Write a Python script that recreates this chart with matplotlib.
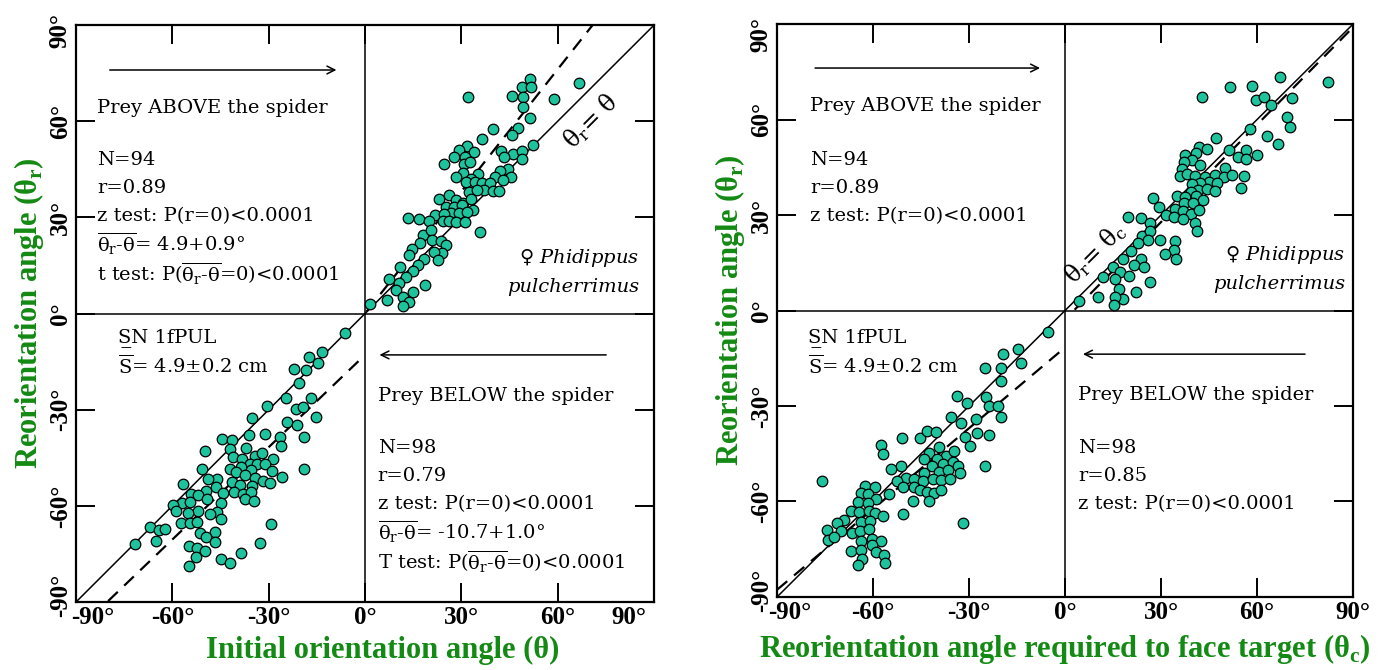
# Reorientation angle vs initial / required angle, Phidippus pulcherrimus

import matplotlib
matplotlib.use("Agg")
import matplotlib.pyplot as plt
from matplotlib.transforms import ScaledTranslation

# Data
# Left panel: initial orientation angle (theta) vs reorientation angle (theta_r)
theta_above = [51.5, 48.9, 51.7, 45.8, 49.3, 32.0, 66.7, 59.0, 49.3, 51.3, 39.8, 47.7, 45.7, 36.4,
               52.4, 31.8, 29.2, 33.9, 27.6, 31.0, 42.2, 46.2, 48.8, 43.3, 48.9, 24.7, 30.7, 32.6,
               44.6, 30.5, 35.3, 28.4, 33.1, 42.0, 40.6, 45.5, 42.9, 31.5, 34.1, 36.4, 38.9, 37.1,
               39.8, 41.8, 32.5, 34.8, 22.9, 26.3, 28.4, 30.5, 33.0, 25.2, 27.6, 30.1, 33.5, 26.8,
               29.4, 31.7, 13.3, 16.7, 21.9, 24.7, 19.8, 24.2, 26.3, 28.4, 31.0, 35.8, 18.0, 20.5,
               20.9, 23.6, 17.0, 25.2, 14.6, 24.0, 21.5, 13.8, 18.5, 22.7, 16.4, 11.0, 14.9, 12.8,
               7.6, 10.5, 18.6, 9.7, 14.9, 7.0, 11.8, 13.8, 11.8, 1.6]
thetar_above = [73.3, 70.8, 70.8, 67.9, 67.5, 67.7, 72.0, 67.0, 64.3, 61.0, 57.5, 57.9, 55.6, 54.6,
                52.5, 52.3, 51.0, 50.4, 48.7, 49.0, 50.8, 49.8, 50.8, 48.7, 48.1, 46.7, 46.7, 47.3,
                45.2, 44.0, 43.7, 42.7, 42.1, 44.6, 42.5, 42.5, 41.7, 41.2, 41.0, 40.6, 40.6, 38.5,
                38.3, 38.3, 37.9, 38.7, 35.6, 36.9, 35.4, 34.6, 35.6, 33.1, 33.1, 33.8, 32.3, 31.3,
                31.5, 31.7, 29.8, 29.6, 30.6, 31.1, 28.8, 29.0, 28.8, 28.6, 28.6, 25.6, 24.6, 26.1,
                23.0, 22.5, 21.9, 21.3, 20.0, 19.0, 19.2, 18.2, 16.9, 16.7, 15.0, 14.4, 13.4, 11.5,
                10.9, 9.6, 9.0, 7.3, 6.7, 4.2, 5.1, 3.6, 2.4, 3.0]
theta_below = [-6.1, -13.4, -17.6, -14.7, -22.0, -18.5, -20.6, -16.8, -24.7, -30.4, -21.6, -19.3,
               -15.4, -35.1, -24.2, -21.2, -36.1, -31.0, -26.6, -18.9, -44.4, -41.5, -26.2, -37.2,
               -41.9, -49.9, -41.1, -38.2, -34.4, -32.0, -28.7, -35.9, -33.5, -31.0, -38.6, -35.5,
               -42.2, -50.8, -40.1, -29.1, -19.0, -37.4, -34.4, -26.0, -46.2, -49.0, -41.4, -31.8,
               -29.7, -39.0, -35.1, -49.6, -46.5, -56.7, -44.2, -54.1, -51.9, -40.9, -38.0, -35.5,
               -37.3, -34.6, -49.3, -45.0, -57.1, -54.6, -59.9, -59.0, -52.0, -55.1, -46.0, -48.2,
               -45.0, -57.2, -54.4, -52.3, -67.0, -64.3, -62.3, -51.5, -46.8, -49.6, -29.2, -65.0,
               -46.8, -71.7, -54.9, -52.3, -49.8, -32.7, -38.5, -52.7, -44.7, -41.9, -54.9]
thetar_below = [-6.2, -12.0, -13.5, -15.5, -17.4, -17.6, -21.8, -26.4, -26.2, -28.7, -29.7, -29.3,
                -32.4, -32.6, -33.9, -34.7, -38.0, -37.6, -38.6, -38.4, -39.1, -39.5, -41.3, -41.8,
                -42.4, -43.0, -44.7, -45.3, -44.3, -43.4, -45.5, -46.8, -47.0, -47.0, -48.0, -48.8,
                -48.6, -48.6, -49.4, -49.0, -48.4, -50.5, -51.3, -50.9, -51.5, -51.7, -52.6, -52.2,
                -53.0, -53.6, -53.8, -55.3, -54.0, -53.2, -56.1, -56.3, -56.5, -55.7, -56.3, -55.7,
                -58.0, -58.4, -58.0, -59.2, -59.2, -58.8, -59.6, -61.7, -61.7, -62.3, -61.9, -62.6,
                -64.2, -65.5, -65.3, -65.1, -66.5, -67.6, -67.1, -68.4, -68.2, -69.6, -65.7, -70.9,
                -71.3, -71.9, -72.5, -73.2, -74.2, -71.7, -74.6, -76.1, -76.7, -77.9, -78.8]

# Right panel: angle required to face target (theta_c) vs reorientation angle (theta_r)
thetac_above = [67.2, 82.1, 51.7, 58.4, 42.8, 59.7, 62.3, 71.0, 64.5, 69.3, 70.3, 57.8, 63.0, 47.2,
                66.4, 51.1, 41.9, 44.3, 56.5, 53.9, 56.5, 60.1, 37.4, 40.9, 39.7, 37.2, 42.3, 36.5,
                49.9, 35.9, 38.0, 40.7, 43.6, 47.0, 49.7, 52.2, 55.8, 44.9, 42.2, 47.4, 39.7, 41.6,
                44.5, 46.9, 55.1, 27.6, 34.9, 39.3, 37.6, 40.9, 43.0, 29.3, 34.3, 37.2, 40.1, 31.4,
                33.9, 37.0, 39.5, 42.0, 36.8, 40.5, 41.1, 19.7, 23.6, 26.4, 23.9, 26.6, 25.9, 29.7,
                34.3, 34.1, 31.1, 34.7, 22.7, 20.5, 18.0, 23.6, 21.6, 24.7, 14.9, 17.2, 11.8, 19.9,
                15.5, 16.8, 26.4, 22.2, 10.3, 18.2, 15.7, 15.3, 4.3]
thetar2_above = [73.5, 71.8, 70.3, 70.5, 67.2, 66.3, 67.2, 66.8, 64.5, 60.9, 57.6, 57.1, 55.0, 54.2,
                 52.3, 50.4, 51.5, 50.8, 50.4, 48.1, 47.7, 49.0, 49.0, 49.4, 47.3, 46.7, 45.8, 44.6,
                 44.8, 42.3, 42.9, 42.3, 42.1, 42.5, 42.1, 42.5, 42.3, 40.4, 40.2, 40.0, 39.8, 37.9,
                 38.1, 37.7, 38.5, 35.4, 36.0, 37.4, 35.8, 36.0, 34.7, 32.4, 32.0, 33.9, 33.7, 30.1,
                 29.5, 31.2, 30.3, 31.6, 28.7, 27.4, 24.9, 29.5, 29.1, 27.4, 23.4, 24.9, 22.2, 22.2,
                 21.7, 19.0, 17.8, 16.1, 21.3, 18.8, 16.1, 16.1, 14.2, 13.6, 13.6, 12.1, 10.6, 10.9,
                 9.8, 6.9, 9.0, 5.8, 4.4, 3.7, 4.4, 1.8, 3.1]
thetac_below = [-5.2, -14.6, -19.5, -13.9, -24.9, -20.1, -20.1, -33.9, -24.8, -30.7, -23.9, -20.9,
                -20.1, -35.7, -27.9, -32.5, -31.2, -27.4, -23.9, -29.7, -50.9, -45.3, -43.0, -40.4,
                -57.4, -56.8, -39.5, -42.4, -37.2, -34.7, -44.2, -40.1, -38.0, -35.1, -33.4, -24.9,
                -51.4, -54.3, -41.6, -44.1, -39.5, -36.6, -32.8, -49.6, -47.3, -44.5, -41.2, -38.7,
                -35.9, -75.8, -52.6, -50.5, -47.2, -45.3, -43.2, -40.9, -38.7, -62.4, -59.3, -63.9,
                -61.6, -54.9, -59.1, -64.7, -61.6, -47.6, -42.6, -66.8, -64.5, -61.4, -59.3, -57.0,
                -50.5, -63.9, -60.9, -69.1, -71.4, -74.3, -69.9, -66.6, -64.1, -61.4, -31.8, -74.0,
                -72.2, -60.3, -63.9, -57.4, -60.3, -66.8, -63.9, -59.1, -56.6, -63.4, -64.7, -56.4]
thetar2_below = [-6.75, -12.0, -13.7, -16.6, -18.1, -18.1, -22.0, -26.9, -27.3, -29.2, -30.0, -30.0,
                 -33.4, -33.4, -34.2, -35.4, -39.6, -38.4, -39.0, -42.6, -40.1, -40.1, -38.0, -38.2,
                 -42.3, -45.1, -43.0, -44.9, -45.7, -44.0, -46.5, -46.8, -48.2, -47.6, -48.8, -49.0,
                 -49.0, -49.7, -48.8, -51.2, -50.7, -50.1, -51.2, -52.6, -53.0, -53.7, -53.0, -53.2,
                 -52.8, -53.5, -53.7, -55.3, -55.5, -56.4, -57.0, -57.4, -56.4, -55.1, -55.5, -57.2,
                 -57.8, -57.6, -59.1, -60.2, -60.6, -60.0, -60.0, -63.1, -63.3, -62.9, -63.7, -64.6,
                 -63.9, -66.4, -66.0, -65.8, -66.9, -69.0, -69.2, -69.8, -69.4, -68.7, -66.9, -72.1,
                 -71.3, -71.7, -72.5, -72.5, -73.8, -75.4, -75.2, -75.9, -76.7, -78.0, -79.8, -79.2]

ticks = [-90, -60, -30, 0, 30, 60, 90]
tick_labels = ["-90°", "-60°", "-30°", "0°", "30°", "60°", "90°"]

# Dashed regression lines (endpoints of x, intercept, slope)
left_dash_above = ([0.5, 71.0], 0.0, 1.27)
left_dash_below = ([-80.0, -2.0], -12.9, 0.96)
right_dash_above = ([3.0, 90.0], -2.8, 1.02)
right_dash_below = ([-90.0, 0.3], -11.6, 0.846)

# Style
plt.rcParams["mathtext.fontset"] = "dejavuserif"
GREEN = "#138a13"
DOT = "#1cc39c"
BODY = "DejaVu Serif"
BOLD = "Liberation Serif"
DIFF = r"$\overline{\mathrm{θ_r}\text{-}\mathrm{θ}}$"

fig = plt.figure(figsize=(13.9, 6.7), dpi=100)
ax1 = fig.add_axes([0.0547, 0.1015, 0.4158, 0.861])
ax2 = fig.add_axes([0.559, 0.109, 0.4144, 0.855])


def nudge(label, dx, dy):
    # shift a tick label by (dx, dy) pixels
    label.set_transform(label.get_transform() + ScaledTranslation(dx / 100, dy / 100, fig.dpi_scale_trans))


def setup_axes(ax, xlabel, xshift, yshift):
    ax.set_xlim(-90, 90)
    ax.set_ylim(-90, 90)
    ax.axhline(0, color="black", lw=1.1, zorder=1)
    ax.axvline(0, color="black", lw=1.1, zorder=1)
    ax.plot([-90, 90], [-90, 90], color="black", lw=1.1, zorder=1)
    ax.set_xticks(ticks)
    ax.set_yticks(ticks)
    ax.set_xticklabels(tick_labels, family=BOLD, fontweight="bold", fontsize=18)
    ax.set_yticklabels(tick_labels, family=BOLD, fontweight="bold", fontsize=18,
                       rotation=90, va="center")
    ax.tick_params(direction="in", length=14, width=1.4, top=True, right=True, pad=3)
    xl = ax.get_xticklabels()
    yl = ax.get_yticklabels()
    nudge(xl[0], xshift[0], 0)
    nudge(xl[-1], xshift[1], 0)
    nudge(yl[0], 0, yshift[0])
    nudge(yl[-1], 0, yshift[1])
    for s in ax.spines.values():
        s.set_linewidth(1.6)
    ax.set_xlabel(xlabel, color=GREEN, family=BOLD, fontweight="bold", fontsize=22, labelpad=6)
    ax.set_ylabel("Reorientation angle (θ$_\\mathregular{r}$)", color=GREEN, family=BOLD,
                  fontweight="bold", fontsize=22, labelpad=2)


def dashed(ax, spec):
    xs, b, m = spec
    ax.plot(xs, [b + m * x for x in xs], color="black", lw=1.6, ls=(0, (6, 4)), zorder=1)


def txt(ax, x, y, s, **kw):
    kw.setdefault("fontsize", 14)
    kw.setdefault("family", BODY)
    ax.text(x, y, s, va="center", **kw)


def arrow(ax, x0, x1, y):
    ax.annotate("", xy=(x1, y), xytext=(x0, y),
                arrowprops=dict(arrowstyle="->", lw=1.1, color="black",
                                mutation_scale=14, shrinkA=0, shrinkB=0))


# Left panel
setup_axes(ax1, "Initial orientation angle (θ)", (17, -25), (7, -5))
ax1.xaxis.set_label_coords(0.53, -0.058)
dashed(ax1, left_dash_above)
dashed(ax1, left_dash_below)
ax1.scatter(theta_above, thetar_above, s=58, c=DOT, edgecolors="black", linewidths=0.9, zorder=3)
ax1.scatter(theta_below, thetar_below, s=58, c=DOT, edgecolors="black", linewidths=0.9, zorder=3)

arrow(ax1, -79.5, -8.9, 76.0)
txt(ax1, -83.5, 64.1, "Prey ABOVE the spider")
txt(ax1, -83.5, 47.9, "N=94")
txt(ax1, -83.5, 39.2, "r=0.89")
txt(ax1, -83.5, 30.4, "z test: P(r=0)<0.0001")
txt(ax1, -83.5, 21.7, DIFF + "= 4.9+0.9°")
txt(ax1, -83.5, 12.3, "t test: P(" + DIFF + "=0)<0.0001")
txt(ax1, 70.2, 60.0, r"$\mathrm{θ_r}$= θ", fontsize=17, rotation=45, ha="center")
txt(ax1, 85.4, 17.3, r"♀ $\mathit{Phidippus}$", ha="right", family=[BODY, "DejaVu Sans"])
txt(ax1, 85.4, 8.3, "pulcherrimus", ha="right", style="italic")
txt(ax1, -77.0, -7.6, "S\u0332N 1fPUL")
txt(ax1, -77.0, -16.4, r"$\overline{\mathrm{S}}$= 4.9±0.2 cm")
arrow(ax1, 75.1, 4.5, -12.9)
txt(ax1, 3.9, -25.7, "Prey BELOW the spider")
txt(ax1, 3.9, -42.0, "N=98")
txt(ax1, 3.9, -50.7, "r=0.79")
txt(ax1, 3.9, -59.4, "z test: P(r=0)<0.0001")
txt(ax1, 3.9, -68.2, DIFF + "= -10.7+1.0°")
txt(ax1, 3.9, -77.5, "T test: P(" + DIFF + "=0)<0.0001")

# Right panel
setup_axes(ax2, "Reorientation angle required to face target (θ$_\\mathregular{c}$)", (13, 0), (7, -10))
dashed(ax2, right_dash_above)
dashed(ax2, right_dash_below)
ax2.scatter(thetac_above, thetar2_above, s=58, c=DOT, edgecolors="black", linewidths=0.9, zorder=3)
ax2.scatter(thetac_below, thetar2_below, s=58, c=DOT, edgecolors="black", linewidths=0.9, zorder=3)

arrow(ax2, -78.1, -7.8, 76.2)
txt(ax2, -79.7, 64.2, "Prey ABOVE the spider")
txt(ax2, -79.7, 47.2, "N=94")
txt(ax2, -79.7, 38.5, "r=0.89")
txt(ax2, -79.7, 29.7, "z test: P(r=0)<0.0001")
txt(ax2, 9.4, 18.0, r"$\mathrm{θ_r}$= $\mathrm{θ_c}$", fontsize=17, rotation=45, ha="center")
txt(ax2, 87.5, 17.4, r"♀ $\mathit{Phidippus}$", ha="right", family=[BODY, "DejaVu Sans"])
txt(ax2, 87.5, 8.3, "pulcherrimus", ha="right", style="italic")
txt(ax2, -80.3, -8.6, "S\u0332N 1fPUL")
txt(ax2, -80.3, -17.4, r"$\overline{\mathrm{S}}$= 4.9±0.2 cm")
arrow(ax2, 75.0, 5.6, -13.7)
txt(ax2, 4.1, -26.5, "Prey BELOW the spider")
txt(ax2, 4.1, -43.2, "N=98")
txt(ax2, 4.1, -52.0, "r=0.85")
txt(ax2, 4.1, -60.8, "z test: P(r=0)<0.0001")

fig.savefig("out.png", dpi=100)
